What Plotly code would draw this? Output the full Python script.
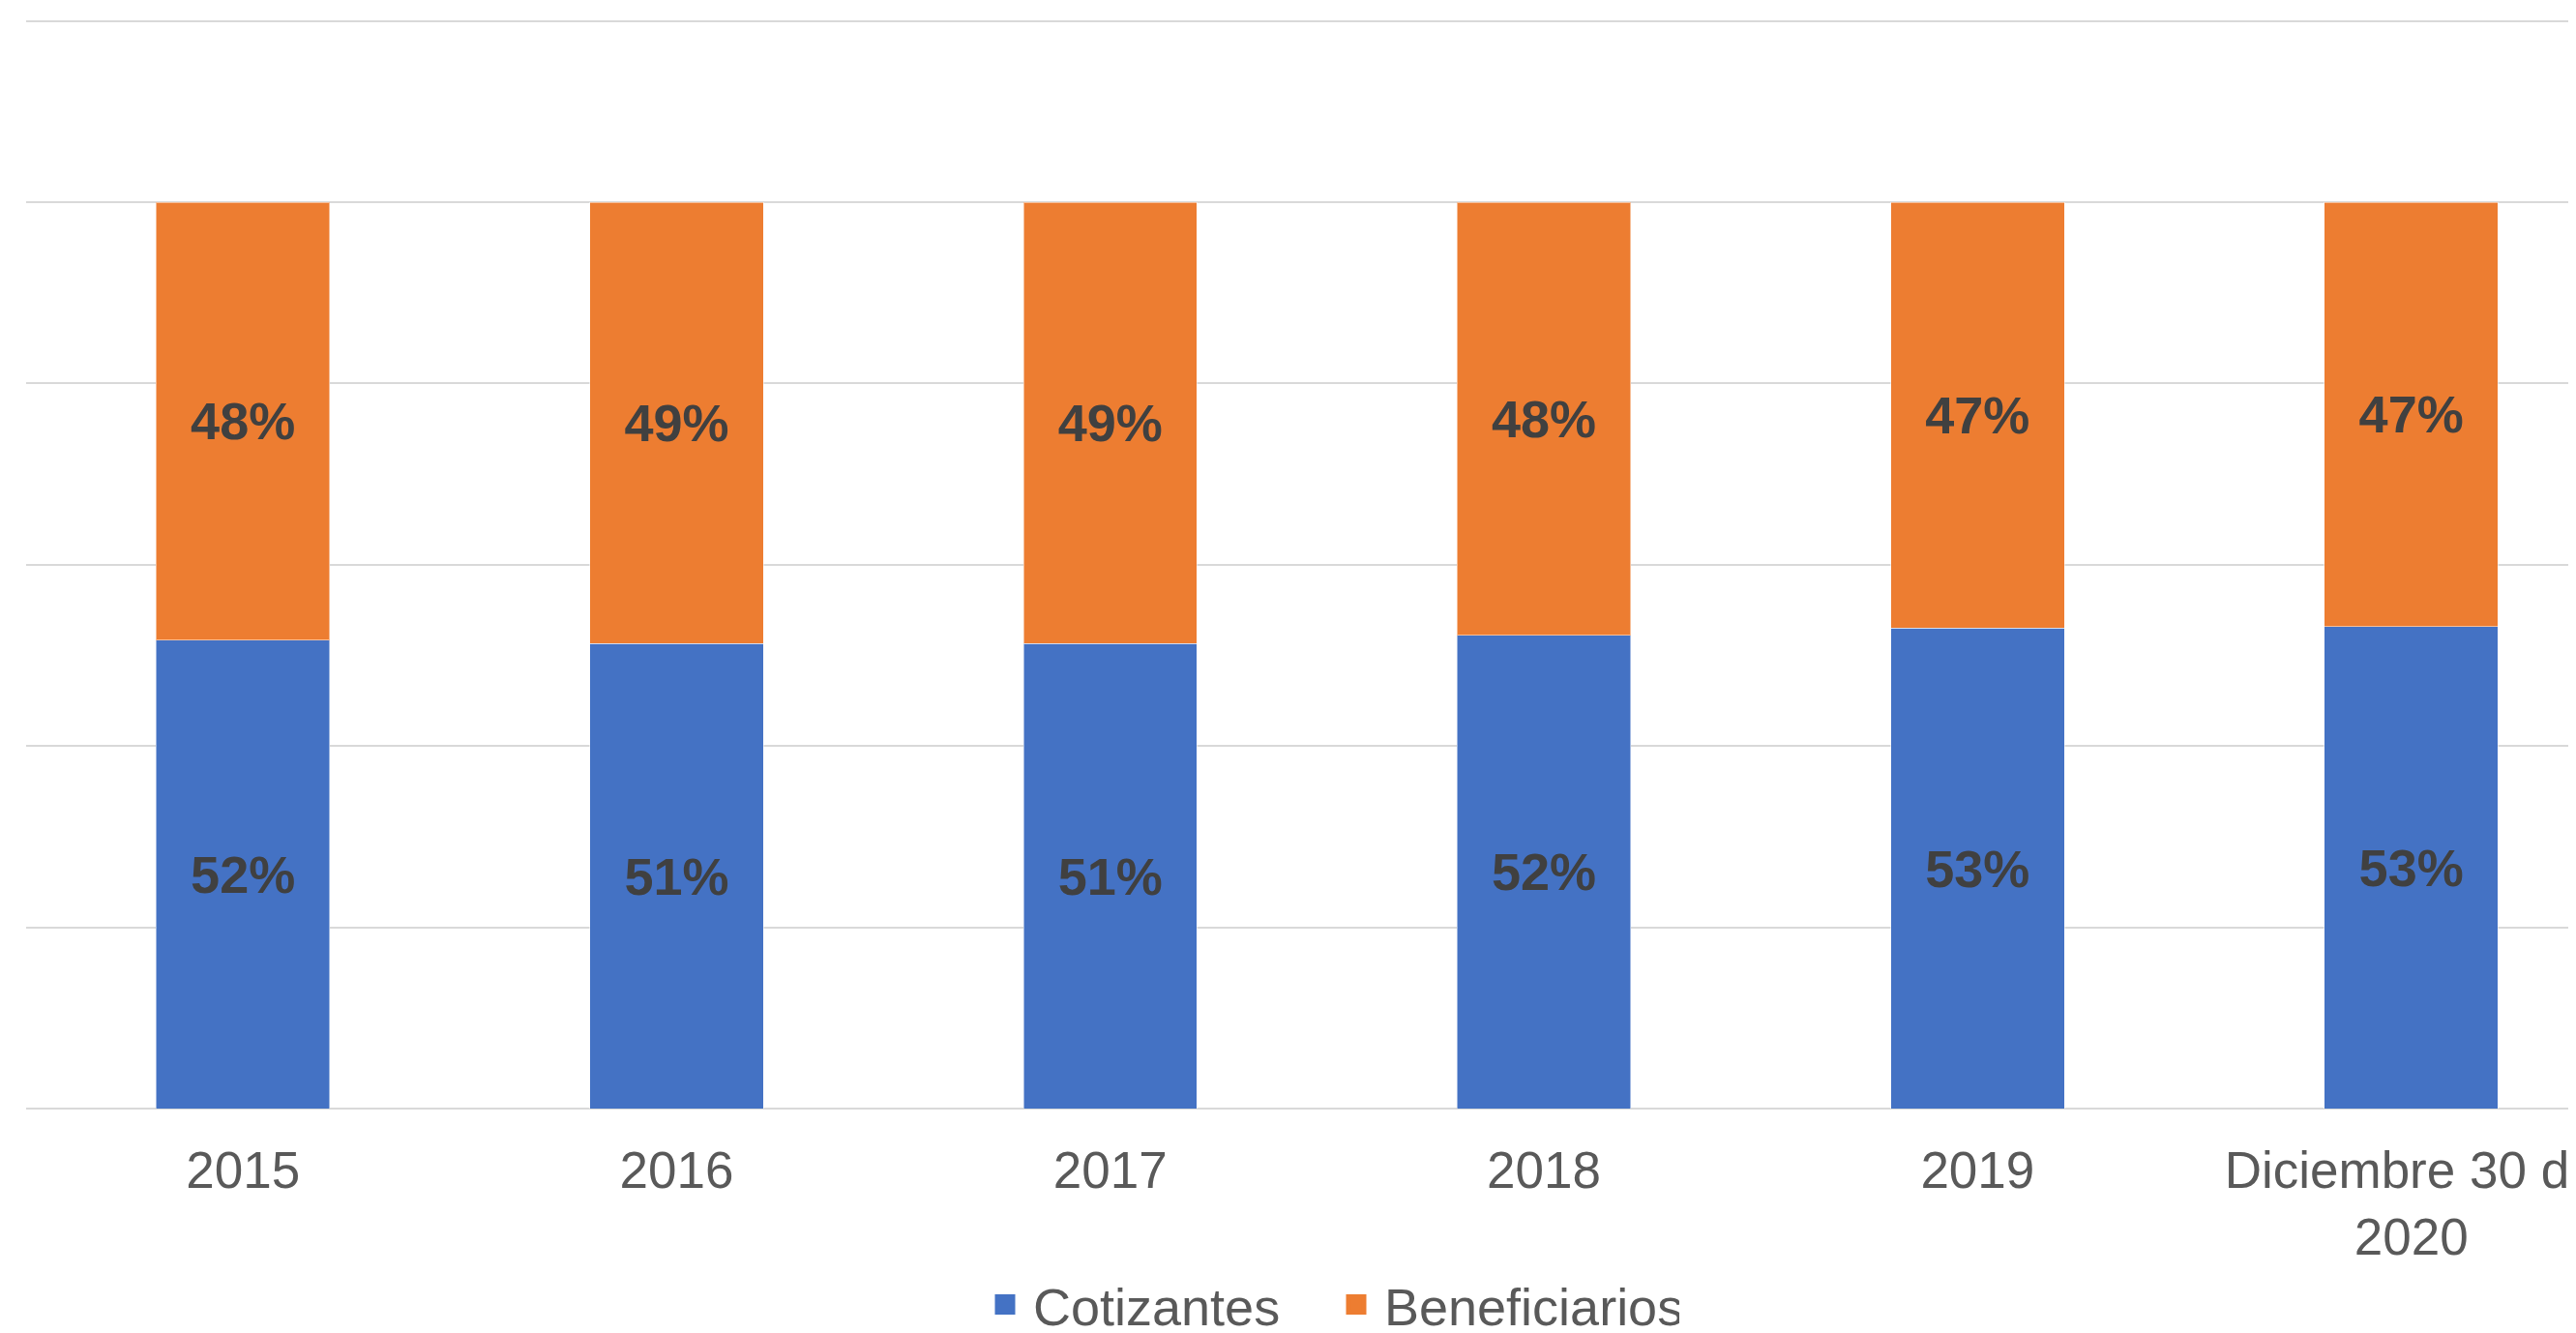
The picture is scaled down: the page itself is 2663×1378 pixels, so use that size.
import plotly.graph_objects as go

categories = ["2015", "2016", "2017", "2018", "2019", "Diciembre 30 de<br>2020"]
cotizantes = [0.517, 0.513, 0.513, 0.522, 0.530, 0.532]
beneficiarios = [0.483, 0.487, 0.487, 0.478, 0.470, 0.468]
series_names = ["Cotizantes", "Beneficiarios"]

BLUE = "#4472C4"
ORANGE = "#ED7D31"
FONT = "Liberation Sans, Arial, sans-serif"

fig = go.Figure()
for name, vals, col in [(series_names[0], cotizantes, BLUE), (series_names[1], beneficiarios, ORANGE)]:
    fig.add_trace(go.Bar(
        x=categories, y=vals, name=name, showlegend=False,
        marker=dict(color=col, line=dict(width=1, color="rgba(255,255,255,0.5)")),
        texttemplate="%{y:.0%}", textposition="inside", insidetextanchor="middle",
        textangle=0,
        textfont=dict(family=FONT, size=54, color="#404040", weight="bold"),
        hoverinfo="skip",
    ))
# legend entries with larger square swatches
for name, col in [(series_names[0], BLUE), (series_names[1], ORANGE)]:
    fig.add_trace(go.Scatter(
        x=[None], y=[None], mode="markers", name=name,
        marker=dict(symbol="square", size=16, color=col, line=dict(width=5, color=col)),
        hoverinfo="skip",
    ))

# page body has an 8px margin; compensate
OFF = 8
W, H = 2663 - OFF, 1378 - OFF
Y_TOP = 1.205
px_per_unit = 937.0
plot_h = round(Y_TOP * px_per_unit)
zero_y = 1146 - OFF
T = zero_y - plot_h
B = H - zero_y
L, R = 27 - OFF, 0
plot_w = W - L - R
cat_w = 448.3
x_max = plot_w / cat_w - 0.5

legend_cx = 1373 - OFF
legend_cy = 1349 - OFF

fig.update_layout(
    width=W, height=H,
    margin=dict(l=L, r=R, t=T, b=B, pad=0, autoexpand=False),
    barmode="stack", bargap=0.6,
    plot_bgcolor="white", paper_bgcolor="white",
    font=dict(family=FONT, color="#595959", size=54),
    showlegend=True,
    legend=dict(orientation="h", x=(legend_cx - L) / plot_w, xanchor="center",
                y=(zero_y - legend_cy) / plot_h, yanchor="middle",
                font=dict(family=FONT, size=54, color="#595959"),
                itemwidth=48, traceorder="normal",
                entrywidth=300, entrywidthmode="pixels"),
)
fig.update_xaxes(
    type="category", range=[-0.5, x_max], showgrid=False, automargin=False,
    showline=False, ticks="", ticklabelstandoff=28,
    tickfont=dict(family=FONT, size=53, color="#595959"),
)
fig.update_yaxes(
    range=[0, Y_TOP], dtick=0.2, showticklabels=False, automargin=False,
    showgrid=True, gridcolor="#D9D9D9", gridwidth=2,
    zeroline=True, zerolinecolor="#D9D9D9", zerolinewidth=2,
)

fig.write_html("out.html")
